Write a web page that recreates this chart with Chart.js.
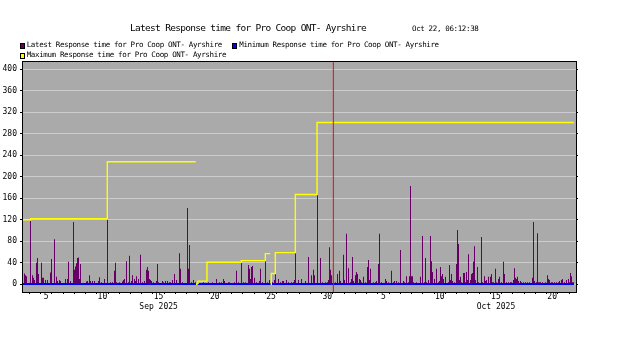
<!DOCTYPE html>
<html>
<head>
<meta charset="utf-8">
<script src="https://cdn.jsdelivr.net/npm/chart.js@4.4.1/dist/chart.umd.min.js"></script>
<style>
  body { margin: 0; background: #fff; }
  #wrap { position: relative; width: 626px; height: 353px; }
  canvas { position: absolute; left: 0; top: 0; }
  .txt { position: absolute; font-family: "DejaVu Sans Mono", monospace; line-height: 1; white-space: nowrap; color: #000; }
  .title { font-size: 9.5px; letter-spacing: -0.7px; left: 130px; top: 22.6px; }
  .small { font-size: 7.5px; letter-spacing: -0.36px; }
  .sw { position: absolute; width: 5px; height: 6px; box-sizing: border-box; border: 1px solid #000; }
</style>
</head>
<body>
<div id="wrap">
  <canvas id="response-chart" width="626" height="353"></canvas>
  <div id="chart-title" class="txt title"></div>
  <div id="chart-stamp" class="txt small" style="left:412px; top:25.4px;"></div>
  <div id="legend"></div>
</div>
<script>
// Response time graph - Pro Coop ONT- Ayrshire

const chartTitle = "Latest Response time for Pro Coop ONT- Ayrshire";
const generatedAt = "Oct 22, 06:12:38";
const seriesNames = [
    "Latest Response time for Pro Coop ONT- Ayrshire",
    "Minimum Response time for Pro Coop ONT- Ayrshire",
    "Maximum Response time for Pro Coop ONT- Ayrshire",
];
const seriesColors = ["#660066", "#0000ff", "#ffff00"];

// x values are days since Sep 1 00:00
const xStartDay = 2.3506;
const xEndDay = 51.621;
const dayLabels = ["5", "10", "15", "20", "25", "30", "5", "10", "15", "20"];
const dayLabelDays = [4.5, 9.5, 14.5, 19.5, 24.5, 29.5, 34.5, 39.5, 44.5, 49.5];
const monthLabels = ["Sep 2025", "Oct 2025"];
const monthLabelDays = [14.5, 44.5];

const yTicks = [0, 40, 80, 120, 160, 200, 240, 280, 320, 360, 400];
const yMin = -14.3;
const yMax = 415.4;

// Latest response time, one consolidated reading per step
const latestStartDay = 2.3506;
const latestStepDay = 0.088936;
const latestValues = [
    2, 2, 20, 17, 15, 2, 2, 2, 118, 2,
    17, 12, 8, 2, 40, 49, 19, 2, 2, 40,
    12, 12, 2, 8, 2, 8, 2, 2, 22, 47,
    2, 2, 84, 2, 14, 6, 2, 8, 6, 2,
    2, 2, 2, 10, 2, 10, 42, 2, 6, 2,
    2, 116, 27, 33, 39, 49, 50, 10, 38, 2,
    2, 2, 2, 2, 5, 6, 2, 17, 6, 2,
    6, 2, 6, 2, 2, 2, 6, 13, 2, 4,
    2, 2, 10, 2, 2, 120, 2, 2, 4, 2,
    4, 2, 25, 40, 4, 2, 2, 4, 2, 2,
    5, 8, 10, 2, 43, 2, 4, 53, 2, 6,
    17, 2, 10, 6, 15, 2, 10, 2, 55, 2,
    4, 2, 6, 2, 27, 32, 25, 10, 8, 6,
    2, 4, 2, 2, 6, 38, 4, 2, 2, 2,
    6, 4, 2, 6, 2, 6, 2, 4, 4, 2,
    8, 2, 19, 2, 8, 2, 2, 58, 29, 2,
    4, 2, 2, 2, 2, 142, 29, 73, 2, 4,
    2, 8, 2, 4, 2, 2, 3, 2, 2, 2,
    2, 4, 2, 2, 2, 2, 4, 2, 2, 2,
    4, 2, 2, 2, 10, 2, 2, 4, 2, 4,
    2, 10, 6, 2, 2, 2, 4, 4, 2, 2,
    2, 2, 4, 2, 25, 2, 4, 2, 2, 40,
    2, 4, 2, 4, 2, 2, 36, 29, 10, 32,
    34, 2, 12, 2, 4, 2, 2, 6, 29, 2,
    4, 2, 2, 43, 2, 4, 2, 8, 2, 2,
    4, 2, 8, 19, 2, 2, 10, 2, 4, 2,
    6, 6, 2, 2, 8, 2, 4, 2, 2, 4,
    2, 4, 8, 58, 2, 2, 8, 2, 2, 10,
    2, 2, 2, 6, 2, 2, 51, 2, 2, 17,
    2, 27, 17, 2, 2, 166, 2, 2, 49, 2,
    4, 2, 2, 4, 2, 4, 8, 69, 27, 17,
    2, 2, 2, 4, 2, 19, 2, 25, 6, 2,
    2, 55, 8, 2, 94, 2, 30, 2, 4, 10,
    51, 6, 2, 17, 23, 19, 2, 10, 8, 4,
    2, 14, 2, 4, 2, 32, 45, 8, 29, 2,
    2, 4, 2, 4, 6, 2, 38, 94, 2, 4,
    2, 2, 2, 10, 6, 2, 4, 2, 2, 25,
    2, 4, 6, 2, 6, 2, 4, 2, 64, 2,
    2, 6, 4, 2, 15, 2, 4, 15, 183, 15,
    15, 4, 2, 2, 4, 2, 2, 2, 14, 2,
    90, 2, 4, 49, 4, 2, 8, 2, 90, 43,
    23, 2, 10, 2, 29, 2, 4, 6, 32, 15,
    19, 10, 2, 14, 2, 2, 4, 36, 8, 19,
    6, 2, 4, 2, 38, 101, 75, 8, 14, 4,
    2, 21, 21, 4, 23, 8, 56, 2, 8, 19,
    21, 42, 71, 8, 2, 32, 4, 2, 2, 88,
    4, 2, 15, 6, 8, 2, 14, 2, 14, 19,
    4, 4, 2, 29, 4, 2, 10, 14, 2, 4,
    2, 42, 19, 2, 4, 2, 4, 2, 4, 4,
    2, 8, 30, 12, 10, 14, 6, 2, 6, 4,
    2, 4, 2, 4, 2, 4, 2, 4, 2, 2,
    12, 116, 6, 2, 4, 95, 4, 4, 4, 2,
    4, 2, 2, 4, 2, 17, 10, 8, 2, 4,
    4, 2, 4, 2, 4, 2, 4, 6, 2, 8,
    10, 2, 4, 2, 8, 2, 10, 4, 21, 15,
    4, 4,
];

// Minimum response time
const minDays = [2.3506, 51.44];
const minValues = [0.6, 0.6];

// Maximum response time (resets leave gaps)
const maxDays = [2.3506, 3.124, 9.937, 17.80, 17.81, 17.826, 17.915, 18.004, 18.80, 21.85, 23.99, 24.43, 24.45, 24.47, 24.52, 24.88, 26.66, 28.59, 51.44];
const maxValues = [120, 122, 228, 228, null, 0, 2, 6, 41, 44, 57, 57, null, 0, 20, 59, 167, 301, 301];

// Red marker line at the month change
const vruleDay = 30.04;

// Build point lists
const latestPoints = latestValues.map((v, i) => ({ x: latestStartDay + i * latestStepDay, y: v }));
latestPoints.push({ x: latestStartDay + latestValues.length * latestStepDay, y: latestValues[latestValues.length - 1] });
const minPoints = minDays.map((d, i) => ({ x: d, y: minValues[i] }));
const maxPoints = maxDays.map((d, i) => ({ x: d, y: maxValues[i] }));

// Title, time stamp and legend
document.getElementById("chart-title").textContent = chartTitle;
document.getElementById("chart-stamp").textContent = generatedAt;

const legendSpots = [
    { sx: 20, sy: 43, tx: 26.7, ty: 40.7 },
    { sx: 232, sy: 43, tx: 239.3, ty: 40.7 },
    { sx: 20, sy: 53, tx: 26.7, ty: 50.7 },
];
const legendBox = document.getElementById("legend");
seriesNames.forEach((name, i) => {
    const spot = legendSpots[i];
    const sw = document.createElement("div");
    sw.className = "sw";
    sw.style.left = spot.sx + "px";
    sw.style.top = spot.sy + "px";
    sw.style.background = seriesColors[i];
    legendBox.appendChild(sw);
    const label = document.createElement("div");
    label.className = "txt small";
    label.style.left = spot.tx + "px";
    label.style.top = spot.ty + "px";
    label.textContent = name;
    legendBox.appendChild(label);
});

// Plot background and frame
const plotFrame = {
    id: "plotFrame",
    beforeDraw(chart) {
        const { ctx, chartArea: a } = chart;
        ctx.save();
        ctx.fillStyle = "#aaaaaa";
        ctx.fillRect(a.left, a.top, a.right - a.left, a.bottom - a.top);
        ctx.restore();
    },
    afterDatasetsDraw(chart) {
        const { ctx, chartArea: a } = chart;
        ctx.save();
        ctx.strokeStyle = "#000";
        ctx.lineWidth = 1;
        ctx.strokeRect(a.left + 0.5, a.top + 0.5, a.right - a.left, a.bottom - a.top);
        ctx.restore();
    },
};

const tickFont = { family: "'DejaVu Sans Mono', monospace", size: 8, lineHeight: "9.7px" };

new Chart(document.getElementById("response-chart"), {
    type: "line",
    data: {
        datasets: [
            {
                label: seriesNames[0],
                data: latestPoints,
                order: 4,
                stepped: true,
                fill: "origin",
                backgroundColor: seriesColors[0],
                borderColor: "rgba(0,0,0,0)",
                borderWidth: 0,
                pointRadius: 0,
            },
            {
                label: seriesNames[1],
                data: minPoints,
                order: 3,
                stepped: true,
                borderColor: seriesColors[1],
                borderWidth: 2,
                pointRadius: 0,
            },
            {
                label: seriesNames[2],
                data: maxPoints,
                order: 2,
                stepped: true,
                spanGaps: false,
                borderColor: seriesColors[2],
                borderWidth: 1.4,
                pointRadius: 0,
            },
            {
                label: "vrule",
                data: [{ x: vruleDay, y: yMin }, { x: vruleDay, y: yMax }],
                order: 1,
                borderColor: "#ff0000",
                borderWidth: 1,
                pointRadius: 0,
            },
        ],
    },
    options: {
        responsive: false,
        animation: false,
        devicePixelRatio: 1,
        layout: { padding: { left: 0, right: 48, top: 61, bottom: 21 } },
        plugins: { legend: { display: false }, tooltip: { enabled: false } },
        scales: {
            x: {
                type: "linear",
                position: "bottom",
                min: xStartDay,
                max: xEndDay,
                afterBuildTicks: (scale) => {
                    const ticks = [];
                    for (let d = Math.ceil(xStartDay); d <= xEndDay; d++) ticks.push({ value: d });
                    dayLabelDays.forEach((d) => ticks.push({ value: d }));
                    ticks.sort((a, b) => a.value - b.value);
                    scale.ticks = ticks;
                },
                afterFit: (scale) => { scale.height = 40; },
                border: { display: false },
                grid: {
                    drawOnChartArea: false,
                    drawTicks: true,
                    tickLength: 2,
                    tickColor: (c) => (c.tick && Number.isInteger(c.tick.value) ? "#000" : "rgba(0,0,0,0)"),
                },
                ticks: {
                    autoSkip: false,
                    maxRotation: 0,
                    minRotation: 0,
                    padding: -2,
                    color: "#000",
                    font: tickFont,
                    callback: (value) => {
                        const i = dayLabelDays.indexOf(value);
                        if (i < 0) return "";
                        const m = monthLabelDays.indexOf(value);
                        return m < 0 ? dayLabels[i] : [dayLabels[i], monthLabels[m]];
                    },
                },
            },
            y: {
                type: "linear",
                position: "left",
                min: yMin,
                max: yMax,
                afterBuildTicks: (scale) => { scale.ticks = yTicks.map((v) => ({ value: v })); },
                afterFit: (scale) => { scale.width = 22; },
                border: { display: false },
                grid: { color: "#cccccc", tickColor: "#000", tickLength: 2 },
                ticks: { padding: 3, color: "#000", font: tickFont, callback: (v) => String(v) },
            },
            yRight: {
                type: "linear",
                position: "right",
                min: yMin,
                max: yMax,
                afterBuildTicks: (scale) => { scale.ticks = yTicks.map((v) => ({ value: v })); },
                afterFit: (scale) => { scale.width = 2; },
                border: { display: false },
                grid: { drawOnChartArea: false, tickColor: "#000", tickLength: 2 },
                ticks: { display: false },
            },
        },
    },
    plugins: [plotFrame],
});
</script>
</body>
</html>
